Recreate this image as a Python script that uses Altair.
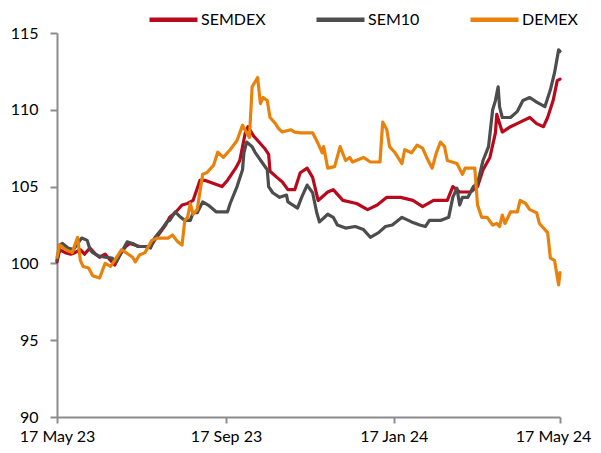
import altair as alt
import pandas as pd

# Day offsets from 17 May 2023 and index values
semdex_days = [0, 2, 6, 10, 13, 17, 20, 24, 28, 31, 35, 39, 42, 46, 50, 53, 60, 68, 71, 75, 79, 82, 86, 91, 95, 99,
               104, 108, 114, 120, 124, 130, 133, 137, 139, 143, 146, 151, 154, 155, 160, 164, 168, 173, 177, 182,
               186, 190, 197, 201, 208, 218, 226, 233, 240, 250, 259, 266, 274, 284, 288, 293, 301, 306, 310, 315,
               319, 320, 324, 330, 337, 344, 349, 354, 357, 361, 364, 366]
semdex_vals = [100.1, 100.9, 100.7, 100.6, 100.7, 100.9, 100.6, 101.0, 100.6, 100.4, 100.6, 100.2, 99.9, 100.6,
               101.1, 101.3, 101.1, 101.1, 101.5, 102.0, 102.5, 103.0, 103.3, 103.8, 103.9, 104.1, 105.4, 105.4,
               105.2, 105.0, 105.4, 106.2, 106.7, 108.5, 108.9, 108.3, 108.0, 107.5, 107.1, 106.0, 105.6, 105.3,
               104.8, 104.8, 105.9, 106.2, 105.6, 104.1, 104.65, 104.8, 104.1, 103.9, 103.5, 103.8, 104.3, 104.3,
               104.1, 103.7, 104.1, 104.1, 105.0, 104.65, 104.65, 105.0, 106.1, 106.9, 108.5, 109.7, 108.55, 108.9,
               109.2, 109.5, 109.1, 108.9, 109.5, 110.6, 111.9, 112.0]

sem10_days = [0, 2, 4, 8, 12, 15, 18, 22, 24, 26, 30, 35, 40, 43, 48, 51, 55, 59, 64, 68, 71, 76, 80, 82, 86, 90,
              93, 97, 99, 102, 106, 110, 116, 124, 126, 131, 135, 136, 138, 142, 144, 149, 153, 154, 157, 162, 167,
              168, 175, 178, 182, 186, 189, 191, 197, 201, 204, 210, 217, 223, 228, 234, 239, 244, 251, 258, 264,
              268, 271, 279, 285, 288, 291, 293, 295, 299, 303, 306, 310, 314, 317, 319, 321, 322, 324, 330, 335,
              339, 344, 349, 355, 359, 362, 365, 366]
sem10_vals = [100.2, 101.2, 101.3, 101.0, 100.9, 101.3, 101.65, 101.5, 100.9, 100.7, 100.5, 100.4, 100.35, 100.1,
              100.9, 101.4, 101.3, 101.1, 101.1, 101.0, 101.65, 102.2, 102.7, 102.8, 103.35, 103.0, 102.8, 102.8,
              103.3, 103.3, 104.0, 103.8, 103.35, 103.35, 103.9, 105.0, 106.1, 107.2, 107.9, 107.6, 107.25, 106.6,
              106.1, 105.0, 104.6, 104.3, 104.45, 104.0, 103.6, 104.3, 105.1, 104.6, 103.3, 102.7, 103.2, 103.0,
              102.5, 102.3, 102.4, 102.2, 101.7, 102.0, 102.4, 102.5, 103.0, 102.7, 102.5, 102.4, 102.8, 102.8,
              103.0, 104.3, 104.9, 103.8, 104.3, 104.3, 105.0, 105.2, 106.7, 107.6, 110.0, 110.6, 111.5, 110.2,
              109.5, 109.5, 109.9, 110.6, 110.8, 110.5, 110.2, 111.3, 112.4, 113.9, 113.8]

demex_days = [0, 2, 6, 11, 15, 17, 19, 23, 26, 31, 35, 39, 42, 47, 55, 57, 60, 64, 69, 73, 81, 84, 88, 91, 93, 95,
              97, 99, 102, 106, 109, 114, 117, 121, 126, 131, 135, 138, 140, 142, 146, 148, 150, 153, 155, 159, 161,
              164, 170, 173, 177, 186, 190, 193, 194, 197, 202, 206, 210, 213, 215, 223, 228, 235, 237, 240, 242,
              246, 251, 253, 258, 262, 266, 269, 273, 276, 279, 282, 284, 291, 295, 297, 304, 306, 309, 313, 317,
              320, 322, 324, 326, 330, 335, 337, 341, 344, 349, 351, 357, 359, 362, 365, 366]
demex_vals = [100.4, 101.2, 100.9, 100.7, 101.7, 100.2, 99.8, 99.7, 99.2, 99.05, 100.0, 99.8, 100.2, 100.9, 100.4,
              100.1, 100.55, 100.7, 101.5, 101.65, 101.65, 101.85, 101.4, 101.2, 102.8, 103.0, 103.9, 103.2, 103.5,
              105.8, 105.9, 106.4, 107.25, 106.9, 107.4, 108.0, 109.0, 108.5, 108.2, 111.5, 112.1, 110.4, 110.8,
              110.6, 109.5, 109.1, 108.8, 108.55, 108.7, 108.55, 108.5, 108.5, 107.8, 107.2, 107.6, 106.2, 106.3,
              107.6, 106.7, 106.9, 106.6, 106.9, 106.6, 106.6, 109.2, 108.7, 107.6, 107.2, 106.5, 107.4, 107.2,
              107.7, 107.5, 106.9, 106.2, 107.2, 107.9, 107.6, 106.7, 106.5, 105.8, 106.2, 106.2, 103.8, 103.0,
              103.0, 102.5, 102.6, 102.4, 103.15, 102.6, 103.35, 103.35, 104.1, 103.9, 103.5, 103.3, 102.6, 102.0,
              100.35, 100.2, 98.6, 99.4]

series_names = ["SEMDEX", "SEM10", "DEMEX"]
series_colors = ["#B80A1C", "#4D4D4D", "#E8820C"]
x_tick_dates = ["2023-05-17", "2023-09-17", "2024-01-17", "2024-05-17"]
y_ticks = [90, 95, 100, 105, 110, 115]

base = pd.Timestamp("2023-05-17")
frames = []
for name, days, vals in [("SEMDEX", semdex_days, semdex_vals),
                         ("SEM10", sem10_days, sem10_vals),
                         ("DEMEX", demex_days, demex_vals)]:
    d = pd.DataFrame({
        "date": [(base + pd.Timedelta(days=int(k))).strftime("%Y-%m-%d") for k in days],
        "value": vals,
        "series": name,
    })
    d["order"] = series_names.index(name)
    frames.append(d)
df = pd.concat(frames, ignore_index=True)

tick_vals = [alt.DateTime(year=int(s[:4]), month=int(s[5:7]), date=int(s[8:10]), utc=True) for s in x_tick_dates]

FONT = "Lato"

chart = alt.Chart(df).mark_line(strokeWidth=3.2, strokeJoin="round", strokeCap="round").encode(
    x=alt.X("date:T",
            scale=alt.Scale(type="utc",
                            domain=[alt.DateTime(year=2023, month=5, date=17, utc=True),
                                    alt.DateTime(year=2024, month=5, date=17, utc=True)]),
            axis=alt.Axis(title=None, values=tick_vals,
                          labelExpr="utcFormat(datum.value, '%d %b %y')",
                          grid=False, domainColor="#8C8C8C", domainWidth=2, tickColor="#8C8C8C",
                          tickWidth=2, tickSize=6, labelFont=FONT, labelFontSize=16, labelColor="#000000",
                          labelPadding=5, labelFlush=False, labelOverlap=False,
                          labelOffset={"condition": {"test": "datum.index === 1", "value": -7}, "value": 0})),
    y=alt.Y("value:Q",
            scale=alt.Scale(domain=[90, 115], nice=False, zero=False),
            axis=alt.Axis(title=None, values=y_ticks, grid=False, domainColor="#8C8C8C", domainWidth=2,
                          tickColor="#8C8C8C", tickWidth=2, tickSize=7, labelFont=FONT, labelFontSize=16,
                          labelColor="#000000", labelPadding=12)),
    color=alt.Color("series:N",
                    scale=alt.Scale(domain=series_names, range=series_colors),
                    legend=alt.Legend(title=None, orient="none", direction="horizontal",
                                      legendX=90, legendY=-40, symbolType="stroke",
                                      symbolSize=2304, symbolStrokeWidth=4.5, labelFont=FONT,
                                      labelFontSize=16, labelColor="#000000", columnPadding=41,
                                      labelOffset=1)),
    order=alt.Order("order:Q"),
    detail="series:N",
).properties(
    width=503,
    height=384,
    autosize=alt.AutoSizeParams(type="none"),
    padding={"left": 49, "top": 25, "right": 33, "bottom": 28},
).configure_view(stroke=None)

chart.save("out.html", embed_options={"renderer": "svg", "actions": False})
